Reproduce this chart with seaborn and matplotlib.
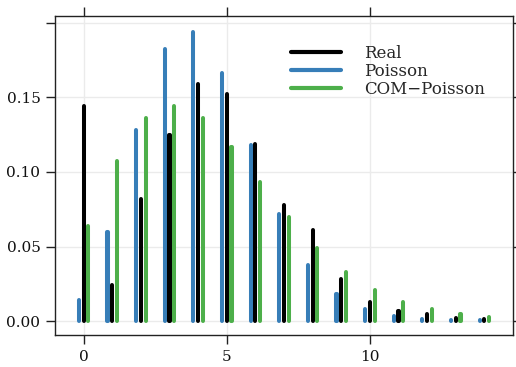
import numpy as np
import pandas as pd
import seaborn as sns
import matplotlib
matplotlib.use("Agg")
import matplotlib.pyplot as plt
from matplotlib.lines import Line2D

counts = list(range(15))
real = [0.144, 0.024, 0.082, 0.125, 0.159, 0.152, 0.119, 0.078, 0.061, 0.028, 0.013, 0.007, 0.005, 0.0025, 0.0015]
poisson = [0.014, 0.060, 0.128, 0.182, 0.194, 0.166, 0.118, 0.072, 0.038, 0.018, 0.008, 0.0035, 0.0015, 0.001, 0.0006]
com_poisson = [0.064, 0.107, 0.136, 0.144, 0.136, 0.117, 0.093, 0.070, 0.049, 0.033, 0.021, 0.013, 0.008, 0.005, 0.003]
series_names = ["Real", "Poisson", "COM\u2212Poisson"]
colors = {"Real": "#000000", "Poisson": "#377EB8", "COM\u2212Poisson": "#4DAF4A"}
xticks = [0, 5, 10]
yticks = [0.00, 0.05, 0.10, 0.15, 0.20]
ytick_labels = ["0.00", "0.05", "0.10", "0.15", ""]

df = pd.DataFrame({
    "count": counts * 3,
    "prob": real + poisson + com_poisson,
    "series": ["Real"] * 15 + ["Poisson"] * 15 + ["COM\u2212Poisson"] * 15,
})

sns.set_theme(style="white")
plt.rcParams["font.family"] = ["DejaVu Serif"]

fig = plt.figure(figsize=(5.16, 3.67), dpi=100)
ax = fig.add_axes([55/516, 32/367, (513-55)/516, (335-16)/367])

hue_order = ["Poisson", "Real", "COM\u2212Poisson"]
sns.barplot(data=df, x="count", y="prob", hue="series", hue_order=hue_order,
            palette=colors, native_scale=True, width=0.5, gap=0.98,
            saturation=1, legend=False, ax=ax, zorder=3)
lw = 2.9
for p in ax.patches:
    fc = p.get_facecolor()
    p.set_edgecolor(fc)
    p.set_linewidth(lw)
    p.set_joinstyle("round")
    p.set_capstyle("round")

ax.set_xlim(-1, 15)
ax.set_ylim(-0.0092, 0.2044)
ax.set_xticks(xticks)
ax.set_xticklabels([str(t) for t in xticks])
ax.set_yticks(yticks)
ax.set_yticklabels(ytick_labels)
ax.set_xlabel("")
ax.set_ylabel("")
ax.grid(True, color="#ebebeb", linewidth=1.0, zorder=0)
ax.set_axisbelow(True)
for s in ax.spines.values():
    s.set_visible(True)
    s.set_color("#222222")
    s.set_linewidth(1.0)
ax.tick_params(axis="both", which="both", direction="out", length=6.5, width=1.0,
               color="#222222", top=True, right=True, bottom=True, left=True,
               labeltop=False, labelright=False, labelsize=11, pad=4, labelcolor="#111111")

handles = [Line2D([0], [0], color=colors[n], lw=3.0, solid_capstyle="round") for n in series_names]
leg = ax.legend(handles, series_names, loc="upper left", bbox_to_anchor=(0.501, 0.93),
                frameon=False, fontsize=12, handlelength=3.0, handletextpad=1.4,
                labelspacing=0.05, borderaxespad=0)

fig.savefig("out.png", dpi=100)
